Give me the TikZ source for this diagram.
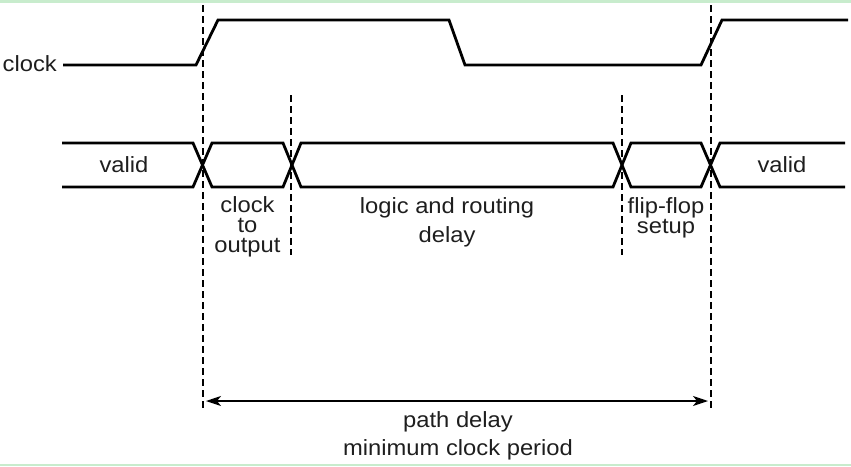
\documentclass[tikz,border=0pt]{standalone}
\usepackage{fontspec}
\setmainfont[FakeStretch=1.08]{Liberation Sans}
\usetikzlibrary{arrows.meta}
\definecolor{edgegreen}{RGB}{200,236,205}
\definecolor{inkgray}{RGB}{30,30,30}

\begin{document}
\begin{tikzpicture}[
  x=1pt, y=-1pt,
  wave/.style={draw, line width=2.8pt, line join=miter},
  guide/.style={draw, line width=1.1pt, dash pattern=on 7pt off 4pt},
  lbl/.style={text=inkgray, font=\fontsize{22}{20}\selectfont, align=center, inner sep=0pt},
  wide/.style={lbl, font=\fontsize{22}{29}\selectfont},
  span/.style={draw, line width=1.4pt, {Stealth[length=15pt,width=10pt,inset=4pt]}-{Stealth[length=15pt,width=10pt,inset=4pt]}}
]
\useasboundingbox (0,0) rectangle (851,466);
\fill[edgegreen] (0,0) rectangle (851,2.5);
\fill[edgegreen] (0,463.5) rectangle (851,466);

\coordinate (g1top) at (203,5);   \coordinate (g1bot) at (203,408);
\coordinate (g2top) at (291,95);  \coordinate (g2bot) at (291,255);
\coordinate (g3top) at (622,95);  \coordinate (g3bot) at (622,255);
\coordinate (g4top) at (711,5);   \coordinate (g4bot) at (711,408);
\draw[guide] (g1top) -- (g1bot);
\draw[guide] (g2top) -- (g2bot);
\draw[guide] (g3top) -- (g3bot);
\draw[guide] (g4top) -- (g4bot);

% clock
\node[lbl, anchor=east] (clk) at (57,64) {clock};
\draw[wave] ([xshift=6pt]clk.east |- 0,65) -- (196,65) -- (218,20) -- (449,20) -- (465,65)
  -- (701,65) -- (722,20) -- (848,20);

% data
\draw[wave] (62,143) -- (193,143) -- (212,187) -- (283,187) -- (301,143) -- (613,143)
  -- (631,187) -- (701,187) -- (720,143) -- (845,143);
\draw[wave] (62,187) -- (193,187) -- (212,143) -- (283,143) -- (301,187) -- (613,187)
  -- (631,143) -- (701,143) -- (720,187) -- (845,187);

\node[lbl] (vin) at (124,165) {valid};
\node[lbl] (vout) at (782,165) {valid};
\node[lbl] (tco) at (247.5,227) {clock\\to\\output};
\node[wide] (tlog) at (447,222) {logic and routing\\delay};
\node[lbl] (tsu) at (666,218) {flip-flop\\setup};

% period
\coordinate (pa) at (206,401);
\coordinate (pb) at (708,401);
\draw[span] (pa) -- (pb);
\node[wide, font=\fontsize{22}{28}\selectfont] (per) at (458,436) {path delay\\minimum clock period};
\end{tikzpicture}
\end{document}
